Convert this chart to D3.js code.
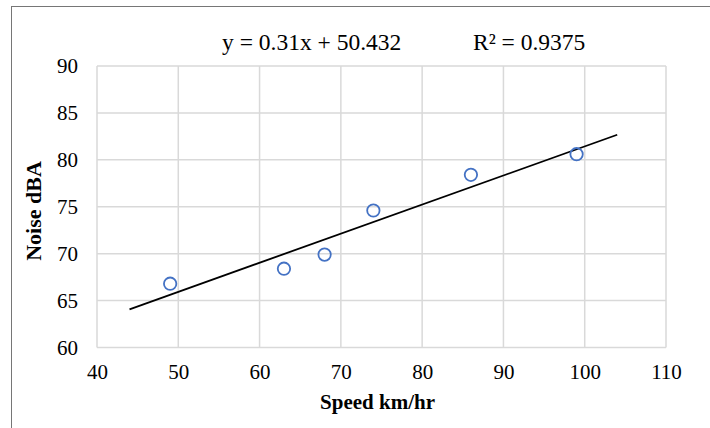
<!DOCTYPE html>
<html>
<head>
<meta charset="utf-8">
<script src="https://cdn.jsdelivr.net/npm/d3@7"></script>
<style>
  html, body { margin: 0; padding: 0; background: #fff; }
  svg { display: block; }
  svg text { font-family: "Liberation Serif", "Times New Roman", "DejaVu Serif", serif !important; fill: #000; }
</style>
</head>
<body>
<script>
// Measured vehicle speed vs. roadside noise level
const speed = [49, 63, 68, 74, 86, 99];
const noise = [66.8, 68.4, 69.9, 74.6, 78.4, 80.6];

// Linear trendline reported on the chart
const slope = 0.31;
const intercept = 50.432;
const rSquared = 0.9375;
const trendRange = [44, 104];

const xTicks = [40, 50, 60, 70, 80, 90, 100, 110];
const yTicks = [60, 65, 70, 75, 80, 85, 90];

const W = 710, H = 428;
const svg = d3.select("body").append("svg").attr("width", W).attr("height", H);

// chart frame
svg.append("rect")
  .attr("x", 11.5).attr("y", 6.5)
  .attr("width", W + 20).attr("height", H + 20)
  .attr("fill", "#fff").attr("stroke", "#767676").attr("stroke-width", 1);

const x = d3.scaleLinear().domain([40, 110]).range([97, 666]);
const y = d3.scaleLinear().domain([60, 90]).range([347.5, 66]);

// gridlines
const grid = svg.append("g").attr("stroke", "#d9d9d9").attr("stroke-width", 1.5);
grid.selectAll("line.v").data(xTicks).join("line")
  .attr("x1", d => x(d)).attr("x2", d => x(d))
  .attr("y1", y(90)).attr("y2", y(60));
grid.selectAll("line.h").data(yTicks).join("line")
  .attr("x1", x(40)).attr("x2", x(110))
  .attr("y1", d => y(d)).attr("y2", d => y(d));

// axes (labels only; lines are the gridlines)
const xAxis = svg.append("g")
  .attr("transform", `translate(0,${y(60)})`)
  .call(d3.axisBottom(x).tickValues(xTicks).tickSize(0).tickPadding(17));
xAxis.select(".domain").remove();
xAxis.attr("font-size", null).attr("font-family", null);
xAxis.selectAll("text").style("font-size", "21px");

const yAxis = svg.append("g")
  .attr("transform", `translate(${x(40)},0)`)
  .call(d3.axisLeft(y).tickValues(yTicks).tickSize(0).tickPadding(19));
yAxis.select(".domain").remove();
yAxis.attr("font-size", null).attr("font-family", null);
yAxis.selectAll("text").style("font-size", "21px");

// trendline
svg.append("line")
  .attr("x1", x(trendRange[0])).attr("y1", y(slope * trendRange[0] + intercept))
  .attr("x2", x(trendRange[1])).attr("y2", y(slope * trendRange[1] + intercept))
  .attr("stroke", "#000").attr("stroke-width", 1.8);

// observations
svg.append("g").selectAll("circle")
  .data(speed.map((s, i) => [s, noise[i]]))
  .join("circle")
  .attr("cx", d => x(d[0])).attr("cy", d => y(d[1]))
  .attr("r", 6.2)
  .attr("fill", "none")
  .attr("stroke", "#4472c4").attr("stroke-width", 1.8);

// equation and R²
svg.append("text")
  .attr("x", 222).attr("y", 49.5)
  .style("font-size", "23.5px")
  .text(`y = ${slope}x + ${intercept}`);
svg.append("text")
  .attr("x", 473).attr("y", 49.5)
  .style("font-size", "23.5px")
  .text(`R² = ${rSquared}`);

// axis titles
svg.append("text")
  .attr("x", (x(40) + x(110)) / 2 - 4).attr("y", 409)
  .attr("text-anchor", "middle")
  .style("font-size", "21px").style("font-weight", "bold")
  .text("Speed km/hr");
svg.append("text")
  .attr("transform", `translate(41,211) rotate(-90)`)
  .attr("text-anchor", "middle")
  .style("font-size", "22px").style("font-weight", "bold")
  .text("Noise dBA");
</script>
</body>
</html>
